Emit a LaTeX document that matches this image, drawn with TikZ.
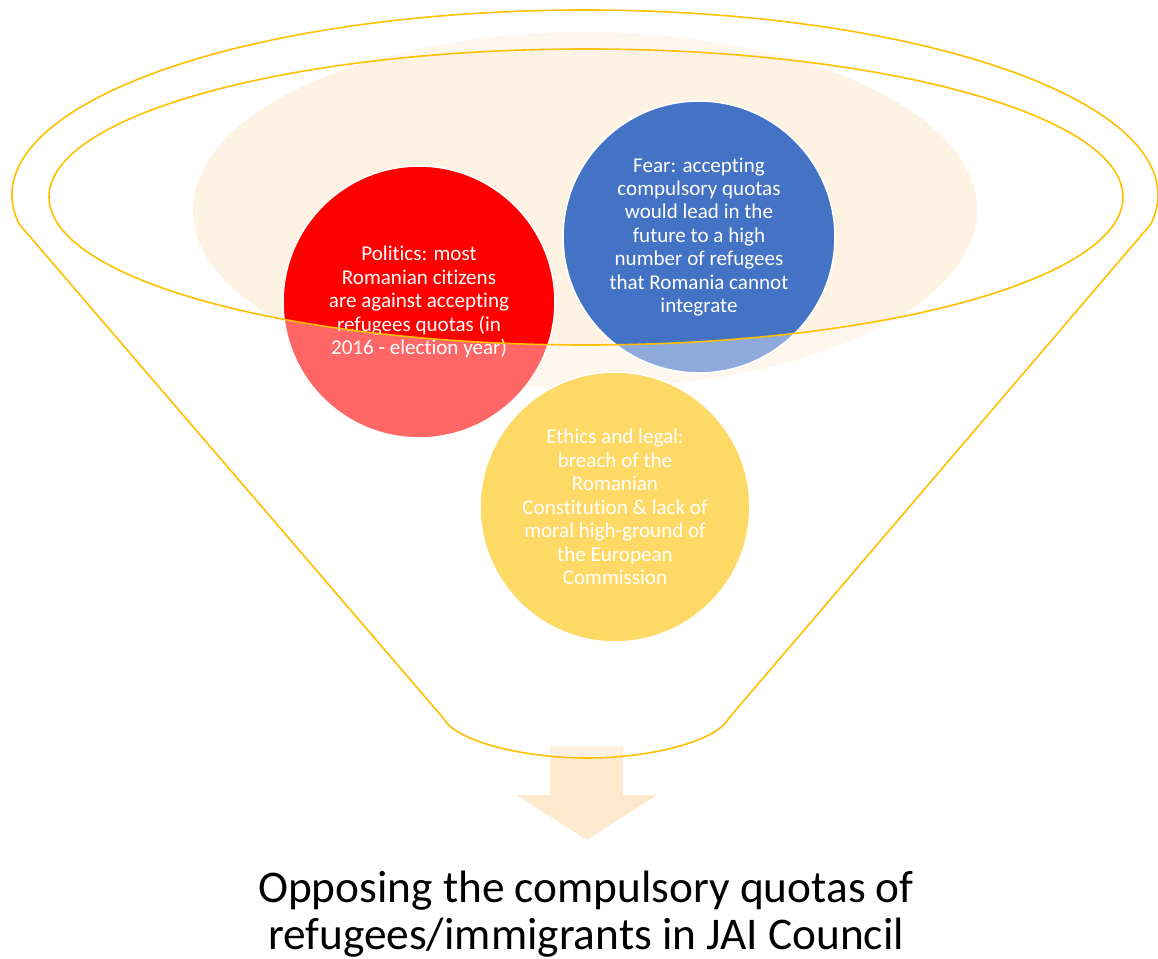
\documentclass[tikz,border=0pt]{standalone}
\usepackage{fontspec}
\setmainfont{Carlito}[Ligatures=NoCommon]
\definecolor{gold}{RGB}{255,192,0}
\definecolor{beige}{RGB}{254,242,227}
\definecolor{cred}{RGB}{255,0,0}
\definecolor{cblue}{RGB}{68,114,196}
\definecolor{cyel}{RGB}{255,192,0}
\definecolor{arrowc}{RGB}{254,233,206}
\def\funnelshape{(444,719) -- ([shift={(585,195)}]171:573 and 185) arc[start angle=171,end angle=369,x radius=573,y radius=185] -- (729,718) .. controls (718,740) and (654,758) .. (587,758) .. controls (520,758) and (455,740) .. (444,719) -- cycle}
\begin{document}
\begin{tikzpicture}[x=0.75pt,y=-0.75pt,
  bubble/.style={circle, draw=white, line width=1.2pt, minimum size=204pt, inner sep=0pt,
    text=white, align=center, font=\fontsize{15.8}{17.6}\selectfont},
  outline/.style={draw=gold, line width=1.2pt}]
\useasboundingbox (0,0) rectangle (1158,959);
\fill[beige] (585,210) ellipse [x radius=392, y radius=178];
\node[bubble, fill=cred] (pol) at (419,302) {Politics: most\\Romanian citizens\\are against accepting\\refugees quotas (in\\2016 - election year)};
\node[bubble, fill=cblue] (fear) at (699,237) {Fear: accepting\\compulsory quotas\\would lead in the\\future to a high\\number of refugees\\that Romania cannot\\integrate};
\node[bubble, fill=cyel, minimum size=202.5pt] (eth) at (615,507) {Ethics and legal:\\breach of the\\Romanian\\Constitution \& lack of\\moral high-ground of\\the European\\Commission};
\fill[arrowc] (550,746) -- (623,746) -- (623,795) -- (657,795) -- (587,840) -- (516,795) -- (550,795) -- cycle;
\path[fill=white, fill opacity=0.4, even odd rule] \funnelshape (586,197) ellipse [x radius=537, y radius=148];
\draw[outline] \funnelshape;
\draw[outline] (586,197) ellipse [x radius=537, y radius=148];
\node[align=center, inner sep=0pt, font=\fontsize{34}{35}\selectfont] (res) at (586,914) {Opposing the compulsory quotas of\\refugees/immigrants in JAI Council};
\end{tikzpicture}
\end{document}
